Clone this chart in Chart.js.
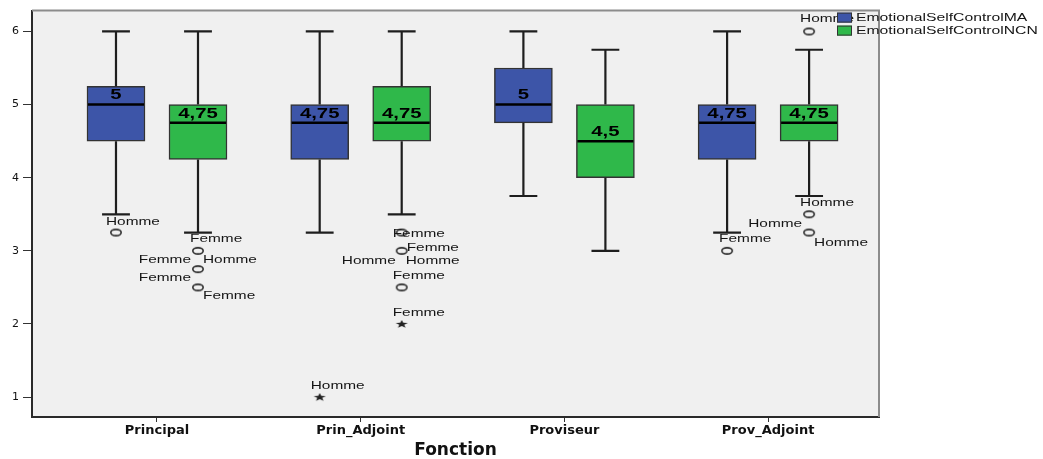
<!DOCTYPE html>
<html><head><meta charset="utf-8">
<script src="https://cdn.jsdelivr.net/npm/chart.js@4.4.1/dist/chart.umd.min.js"></script>
<style>html,body{margin:0;padding:0;background:#fff}#wrap{width:1043px;height:459px}</style>
</head><body><div id="wrap"><canvas id="c" width="1043" height="459"></canvas></div>
<script>
// ---------------- data ----------------
const categories = ['Principal', 'Prin_Adjoint', 'Proviseur', 'Prov_Adjoint'];
const seriesNames = ['EmotionalSelfControlMA', 'EmotionalSelfControlNCN'];
const yTicks = [1, 2, 3, 4, 5, 6];
const xTitle = 'Fonction';

const maMin    = [3.5, 3.25, 3.75, 3.25];
const maQ1     = [4.5, 4.25, 4.75, 4.25];
const maMedian = [5, 4.75, 5, 4.75];
const maQ3     = [5.25, 5, 5.5, 5];
const maMax    = [6, 6, 6, 6];
const maMedianText = ['5', '4,75', '5', '4,75'];

const ncnMin    = [3.25, 3.5, 3, 3.75];
const ncnQ1     = [4.25, 4.5, 4, 4.5];
const ncnMedian = [4.75, 4.75, 4.5, 4.75];
const ncnQ3     = [5, 5.25, 5, 5];
const ncnMax    = [6, 6, 5.75, 5.75];
const ncnMedianText = ['4,75', '4,75', '4,5', '4,75'];

const maOutliers  = [[3.25], [], [], [3.0]];
const maExtremes  = [[], [1.0], [], []];
const ncnOutliers = [[3.0, 2.75, 2.5], [3.25, 3.0, 2.5], [], [6.0, 3.5, 3.25]];
const ncnExtremes = [[], [2.0], [], []];

// case labels: [series, category, value, text]
const caseLabels = [
  [0, 0, 3.25, 'Homme'],
  [1, 0, 3.0, 'Femme'],
  [1, 0, 2.75, 'Femme'],
  [1, 0, 2.75, 'Homme'],
  [1, 0, 2.5, 'Femme'],
  [1, 0, 2.5, 'Femme'],
  [0, 1, 1.0, 'Homme'],
  [1, 1, 3.25, 'Femme'],
  [1, 1, 3.0, 'Femme'],
  [1, 1, 3.0, 'Homme'],
  [1, 1, 3.0, 'Homme'],
  [1, 1, 2.5, 'Femme'],
  [1, 1, 2.0, 'Femme'],
  [0, 3, 3.0, 'Femme'],
  [1, 3, 6.0, 'Homme'],
  [1, 3, 3.5, 'Homme'],
  [1, 3, 3.25, 'Homme'],
  [1, 3, 3.25, 'Homme']
];
// placement of each case label relative to its point (px): [dx, dy, align]
const caseLabelPlacement = [
  [-10, -11, 'left'],
  [-8, -12, 'left'],
  [-7, -9, 'right'],
  [5, -9, 'left'],
  [-7, -9, 'right'],
  [5, 9, 'left'],
  [-9, -11, 'left'],
  [-9, 1, 'left'],
  [5, -3, 'left'],
  [-6, 10, 'right'],
  [4, 10, 'left'],
  [-9, -11, 'left'],
  [-9, -11, 'left'],
  [-8, -12, 'left'],
  [-9, -12, 'left'],
  [-9, -11, 'left'],
  [-7, -9, 'right'],
  [5, 10, 'left']
];

// ---------------- style ----------------
const colors = ['#3d55a8', '#2fb84a'];
const groupOffset = [-0.2013, 0.2013];
const boxWidthPx = 58;
const textStretch = 1.4;

const stats = [
  {min: maMin, q1: maQ1, med: maMedian, q3: maQ3, max: maMax, medText: maMedianText, out: maOutliers, ext: maExtremes},
  {min: ncnMin, q1: ncnQ1, med: ncnMedian, q3: ncnQ3, max: ncnMax, medText: ncnMedianText, out: ncnOutliers, ext: ncnExtremes}
];

function ellipseStyle() {
  const c = document.createElement('canvas'); c.width = 14; c.height = 10;
  const g = c.getContext('2d');
  g.strokeStyle = '#2a2a2a'; g.lineWidth = 1.6;
  g.beginPath(); g.ellipse(7, 5, 5.2, 3.1, 0, 0, Math.PI * 2); g.stroke();
  return c;
}
function starStyle() {
  const c = document.createElement('canvas'); c.width = 16; c.height = 10;
  const g = c.getContext('2d');
  g.fillStyle = '#222';
  g.translate(8, 5.3); g.scale(1.45, 1);
  g.beginPath();
  for (let i = 0; i < 10; i++) {
    const r = i % 2 === 0 ? 4.4 : 1.8;
    const a = -Math.PI / 2 + i * Math.PI / 5;
    const px = r * Math.cos(a), py = r * Math.sin(a);
    if (i === 0) g.moveTo(px, py); else g.lineTo(px, py);
  }
  g.closePath(); g.fill();
  return c;
}
const circleImg = ellipseStyle();
const starImg = starStyle();

// ---------------- datasets ----------------
const datasets = [];
stats.forEach((s, si) => {
  datasets.push({
    type: 'bar',
    label: seriesNames[si],
    data: categories.map((c, ci) => ({x: ci + groupOffset[si], y: [s.q1[ci], s.q3[ci]]})),
    backgroundColor: colors[si],
    borderColor: '#333',
    borderWidth: 1.5,
    borderSkipped: false,
    grouped: false,
    barThickness: boxWidthPx,
    order: 2
  });
});
stats.forEach((s, si) => {
  const outPts = [], extPts = [];
  categories.forEach((c, ci) => {
    s.out[ci].forEach(v => outPts.push({x: ci + groupOffset[si], y: v}));
    s.ext[ci].forEach(v => extPts.push({x: ci + groupOffset[si], y: v}));
  });
  datasets.push({type: 'scatter', label: seriesNames[si] + ' outliers', data: outPts,
    pointStyle: circleImg, pointRadius: 4, showLine: false, order: 1});
  datasets.push({type: 'scatter', label: seriesNames[si] + ' extremes', data: extPts,
    pointStyle: starImg, pointRadius: 4, showLine: false, order: 1});
});

function stretchedText(ctx, text, x, y, align, font, sx) {
  ctx.save();
  ctx.translate(x, y);
  ctx.scale(sx, 1);
  ctx.font = font;
  ctx.textAlign = align;
  ctx.textBaseline = 'middle';
  ctx.fillText(text, 0, 0);
  ctx.restore();
}

const boxPlugin = {
  id: 'boxExtras',
  beforeDraw(chart) {
    const {ctx, chartArea: a} = chart;
    ctx.save();
    ctx.fillStyle = '#f0f0f0';
    ctx.fillRect(a.left, a.top, a.right - a.left, a.bottom - a.top);
    ctx.restore();
  },
  afterDatasetsDraw(chart) {
    const ctx = chart.ctx, xs = chart.scales.x, ys = chart.scales.y;
    ctx.save();
    stats.forEach((s, si) => {
      const meta = chart.getDatasetMeta(si);
      categories.forEach((c, ci) => {
        const bar = meta.data[ci];
        const cx = xs.getPixelForValue(ci + groupOffset[si]);
        const w = bar.width;
        const capHalf = w * 0.24;
        const yMax = ys.getPixelForValue(s.max[ci]);
        const yQ3 = ys.getPixelForValue(s.q3[ci]);
        const yQ1 = ys.getPixelForValue(s.q1[ci]);
        const yMin = ys.getPixelForValue(s.min[ci]);
        const yMed = ys.getPixelForValue(s.med[ci]);
        ctx.strokeStyle = '#1e1e1e';
        ctx.lineWidth = 2.2;
        ctx.beginPath();
        ctx.moveTo(cx, yQ3); ctx.lineTo(cx, yMax);
        ctx.moveTo(cx - capHalf, yMax); ctx.lineTo(cx + capHalf, yMax);
        ctx.moveTo(cx, yQ1); ctx.lineTo(cx, yMin);
        ctx.moveTo(cx - capHalf, yMin); ctx.lineTo(cx + capHalf, yMin);
        ctx.stroke();
        ctx.strokeStyle = '#000';
        ctx.lineWidth = 2.5;
        ctx.beginPath();
        ctx.moveTo(cx - w / 2 + 1, yMed); ctx.lineTo(cx + w / 2 - 1, yMed);
        ctx.stroke();
        ctx.fillStyle = '#000';
        stretchedText(ctx, s.medText[ci], cx, yMed - 9, 'center', 'bold 14px "Liberation Sans", Arial, sans-serif', 1.45);
      });
    });
    ctx.fillStyle = '#151515';
    caseLabels.forEach((lab, i) => {
      const [si, ci, v, text] = lab;
      const [dx, dy, align] = caseLabelPlacement[i];
      const px = xs.getPixelForValue(ci + groupOffset[si]);
      const py = ys.getPixelForValue(v);
      stretchedText(ctx, text, px + dx, py + dy, align, '11px "Liberation Sans", Arial, sans-serif', textStretch);
    });
    ctx.restore();
  },
  afterDraw(chart) {
    const {ctx, chartArea: a} = chart;
    ctx.save();
    ctx.strokeStyle = '#8c8c8c';
    ctx.lineWidth = 2;
    ctx.beginPath();
    ctx.moveTo(a.left, a.top); ctx.lineTo(a.right, a.top); ctx.lineTo(a.right, a.bottom);
    ctx.stroke();
    // legend
    const lx = a.right - 42, ly = a.top + 2;
    seriesNames.forEach((name, i) => {
      const y = ly + i * 13;
      ctx.fillStyle = colors[i];
      ctx.fillRect(lx, y, 15, 10);
      ctx.strokeStyle = '#333';
      ctx.lineWidth = 1;
      ctx.strokeRect(lx + 0.5, y + 0.5, 14, 9);
      ctx.fillStyle = '#151515';
      stretchedText(ctx, name, lx + 19, y + 5.5, 'left', '11px "Liberation Sans", Arial, sans-serif', 1.43);
    });
    ctx.restore();
  }
};

new Chart(document.getElementById('c'), {
  type: 'bar',
  data: {datasets},
  options: {
    responsive: false,
    animation: false,
    layout: {padding: {top: 8, right: 164, left: 0, bottom: 0}},
    plugins: {legend: {display: false}, tooltip: {enabled: false}},
    scales: {
      x: {
        type: 'linear',
        min: -0.6136,
        max: 3.5444,
        offset: false,
        afterBuildTicks(scale) { scale.ticks = categories.map((c, i) => ({value: i})); },
        afterFit(scale) { scale.height = 42; },
        grid: {display: true, drawOnChartArea: false, drawTicks: true, tickLength: 5, color: '#333', offset: false},
        border: {display: true, color: '#2a2a2a', width: 2},
        ticks: {
          callback: (v) => categories[v] ?? '',
          font: {family: 'DejaVu Sans', weight: 'bold', size: 13},
          color: '#111',
          padding: 1,
          maxRotation: 0,
          autoSkip: false
        },
        title: {
          display: true, text: xTitle, color: '#111',
          font: {family: 'DejaVu Sans', weight: 'bold', size: 17, lineHeight: 1},
          padding: {top: 0, bottom: 0}
        }
      },
      y: {
        type: 'linear',
        min: 0.728,
        max: 6.285,
        beginAtZero: false,
        afterBuildTicks(scale) { scale.ticks = yTicks.map(v => ({value: v})); },
        afterFit(scale) { scale.width = 32; },
        grid: {display: true, drawOnChartArea: false, drawTicks: true, tickLength: 9, color: '#333'},
        border: {display: true, color: '#2a2a2a', width: 2},
        ticks: {
          font: {family: 'DejaVu Sans', size: 11},
          color: '#111',
          padding: 4
        }
      }
    }
  },
  plugins: [boxPlugin]
});
</script>
</body></html>
